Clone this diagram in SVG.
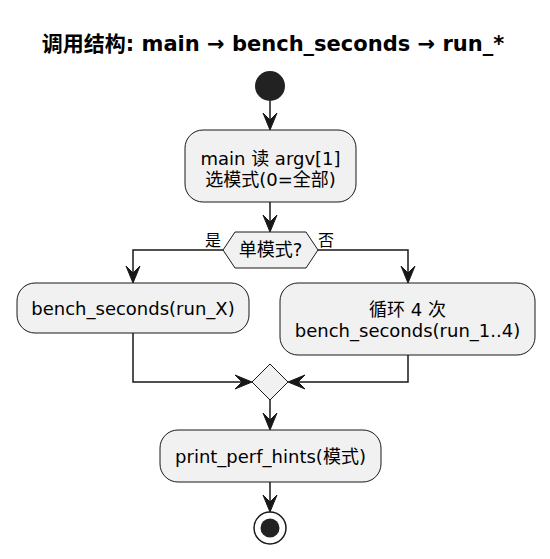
<svg xmlns="http://www.w3.org/2000/svg" width="550" height="559" viewBox="0 0 550 559">
<style>
text{font-family:"DejaVu Sans","Noto Sans CJK SC",sans-serif;fill:#000;}
.t{font-size:21px;font-weight:bold;}
.n{font-size:18px;}
.l{font-size:16px;}
.box{fill:#F1F1F1;stroke:#181818;stroke-width:1;}
.ln{fill:none;stroke:#181818;stroke-width:1.5;}
.ah{fill:#181818;stroke:#181818;stroke-width:1;}
</style>
<defs>
<path id="ad" d="M0,0 L-7,-17 L0,-10 L7,-17 Z"/>
</defs>
<rect width="550" height="559" fill="#fff"/>
<text class="t" x="273" y="51" text-anchor="middle">调用结构: main → bench_seconds → run_*</text>
<g id="start"><circle cx="270" cy="86" r="15" fill="#222"/></g>
<g id="connectors">
<path class="ln" d="M270,101 V128"/>
<use href="#ad" class="ah" transform="translate(270,130)"/>
<path class="ln" d="M270,202 V230"/>
<use href="#ad" class="ah" transform="translate(270,232)"/>
<path class="ln" d="M223,250 H133 V281"/>
<use href="#ad" class="ah" transform="translate(133,283)"/>
<path class="ln" d="M318,250 H408 V281"/>
<use href="#ad" class="ah" transform="translate(408,283)"/>
<path class="ln" d="M133,333 V382 H250"/>
<use href="#ad" class="ah" transform="translate(252,382) rotate(-90)"/>
<path class="ln" d="M408,355 V382 H290"/>
<use href="#ad" class="ah" transform="translate(288,382) rotate(90)"/>
<path class="ln" d="M270,400 V428"/>
<use href="#ad" class="ah" transform="translate(270,430)"/>
<path class="ln" d="M270,482 V510"/>
<use href="#ad" class="ah" transform="translate(270,512)"/>
</g>
<g id="read">
<rect class="box" x="185" y="130" width="171" height="72" rx="18"/>
<text class="n" x="270.5" y="165" text-anchor="middle">main 读 argv[1]</text>
<text class="n" x="270.5" y="186" text-anchor="middle">选模式(0=全部)</text>
</g>
<g id="decision">
<polygon class="box" points="223,250 235,232 306,232 318,250 306,268 235,268"/>
<text class="n" x="270.5" y="256" text-anchor="middle">单模式?</text>
<text class="l" x="205" y="246">是</text>
<text class="l" x="318" y="246">否</text>
</g>
<g id="single">
<rect class="box" x="17" y="283" width="232" height="50" rx="18"/>
<text class="n" x="133" y="315" text-anchor="middle">bench_seconds(run_X)</text>
</g>
<g id="all">
<rect class="box" x="280" y="283" width="255" height="72" rx="18"/>
<text class="n" x="407.5" y="316" text-anchor="middle">循环 4 次</text>
<text class="n" x="407.5" y="337" text-anchor="middle">bench_seconds(run_1..4)</text>
</g>
<g id="merge">
<polygon class="box" points="270,364 288,382 270,400 252,382"/>
</g>
<g id="hints">
<rect class="box" x="160" y="430" width="221" height="52" rx="18"/>
<text class="n" x="270.5" y="463" text-anchor="middle">print_perf_hints(模式)</text>
</g>
<g id="end">
<circle cx="270" cy="528" r="16" fill="#fff" stroke="#181818" stroke-width="1.5"/>
<circle cx="270" cy="528" r="9.5" fill="#222"/>
</g>
</svg>
